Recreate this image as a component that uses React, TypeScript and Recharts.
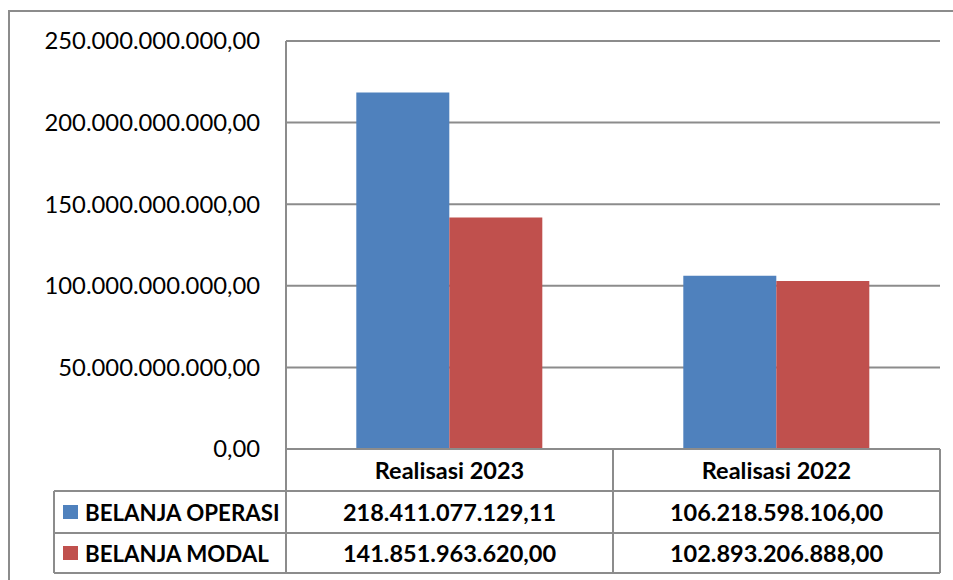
import { BarChart, Bar, XAxis, YAxis, CartesianGrid } from 'recharts'

const categories = ['Realisasi 2023', 'Realisasi 2022']
const belanjaOperasi = [218411077129.11, 106218598106.0]
const belanjaModal = [141851963620.0, 102893206888.0]
const seriesNames = ['BELANJA OPERASI', 'BELANJA MODAL']
const yTicks = [0, 50000000000, 100000000000, 150000000000, 200000000000, 250000000000]

const BLUE = '#4F81BD'
const RED = '#C0504D'
const GRID = '#8c8c8c'
const FONT = 'Lato, "Open Sans", sans-serif'

const W = 953
const H = 580
const PLOT_LEFT = 286
const PLOT_RIGHT = 940
const PLOT_TOP = 41
const PLOT_BOTTOM = 449
const ROW_H = [42, 42, 40]
const BAND = (PLOT_RIGHT - PLOT_LEFT) / categories.length

// indonesian number format: 1.234.567,89
function fmtId(v: number): string {
  const [intPart, dec] = v.toFixed(2).split('.')
  return intPart.replace(/\B(?=(\d{3})+(?!\d))/g, '.') + ',' + dec
}

const data = categories.map((name, i) => ({
  name,
  operasi: belanjaOperasi[i],
  modal: belanjaModal[i],
}))

const rowValues = [belanjaOperasi, belanjaModal]

// each x tick draws one column of the data table under the plot
function TableColumnTick(props: any) {
  const { x, y, payload, index } = props
  const left = x - BAND / 2
  const right = x + BAND / 2
  const y1 = y + ROW_H[0]
  const y2 = y1 + ROW_H[1]
  const y3 = y2 + ROW_H[2]
  const txt = { fontFamily: FONT, fontWeight: 700, fontSize: 23.5, fill: '#000', textAnchor: 'middle' as const, dominantBaseline: 'central' as const }
  return (
    <g>
      <line x1={left} x2={right} y1={y1} y2={y1} stroke={GRID} strokeWidth={2} />
      <line x1={left} x2={right} y1={y2} y2={y2} stroke={GRID} strokeWidth={2} />
      <line x1={left} x2={right} y1={y3} y2={y3} stroke={GRID} strokeWidth={2} />
      <line x1={right} x2={right} y1={y} y2={y3} stroke={GRID} strokeWidth={2} />
      <text x={x} y={y + ROW_H[0] / 2} {...txt}>{payload.value}</text>
      <text x={x} y={y1 + ROW_H[1] / 2} {...txt}>{fmtId(rowValues[0][index])}</text>
      <text x={x} y={y2 + ROW_H[2] / 2} {...txt}>{fmtId(rowValues[1][index])}</text>
    </g>
  )
}

function LegendColumn() {
  const y1 = PLOT_BOTTOM + ROW_H[0]
  const y2 = y1 + ROW_H[1]
  const y3 = y2 + ROW_H[2]
  const colors = [BLUE, RED]
  return (
    <svg width={W} height={H} style={{ position: 'absolute', left: 0, top: 0, pointerEvents: 'none' }}>
      <line x1={PLOT_LEFT} x2={PLOT_LEFT} y1={PLOT_BOTTOM} y2={y3} stroke={GRID} strokeWidth={2} />
      <line x1={54} x2={54} y1={y1} y2={y3} stroke={GRID} strokeWidth={2} />
      <line x1={54} x2={PLOT_LEFT} y1={y1} y2={y1} stroke={GRID} strokeWidth={2} />
      <line x1={54} x2={PLOT_LEFT} y1={y2} y2={y2} stroke={GRID} strokeWidth={2} />
      <line x1={54} x2={PLOT_LEFT} y1={y3} y2={y3} stroke={GRID} strokeWidth={2} />
      {seriesNames.map((name, i) => {
        const top = i === 0 ? y1 : y2
        const mid = top + ROW_H[i + 1] / 2
        return (
          <g key={name}>
            <rect x={63} y={mid - 7} width={15} height={14} fill={colors[i]} />
            <text x={85} y={mid} fontFamily={FONT} fontWeight={700} fontSize={22.3} dominantBaseline="central">
              {name}
            </text>
          </g>
        )
      })}
    </svg>
  )
}

export default function App() {
  return (
    <div style={{ position: 'absolute', left: 0, top: 0, width: W, height: H, overflow: 'hidden', background: '#fff' }}>
      <div
        style={{
          position: 'absolute',
          left: 8,
          top: 10,
          width: 1200,
          height: 1200,
          border: `2px solid ${GRID}`,
        }}
      />
      <div style={{ position: 'absolute', left: 0, top: 0 }}>
        <BarChart
          width={W}
          height={H}
          data={data}
          margin={{ top: PLOT_TOP, right: W - PLOT_RIGHT, left: 30, bottom: 0 }}
          barCategoryGap="21.5%"
          barGap={0}
        >
          <CartesianGrid vertical={false} stroke={GRID} strokeWidth={2} />
          <XAxis
            dataKey="name"
            height={H - PLOT_BOTTOM}
            axisLine={{ stroke: GRID, strokeWidth: 2 }}
            tickLine={false}
            tickSize={0}
            tickMargin={0}
            tick={<TableColumnTick />}
            interval={0}
          />
          <YAxis
            width={PLOT_LEFT - 30}
            domain={[0, 250000000000]}
            ticks={yTicks}
            tickFormatter={fmtId}
            axisLine={{ stroke: GRID, strokeWidth: 2 }}
            tickLine={false}
            tickSize={0}
            tickMargin={26}
            tick={{ fontFamily: FONT, fontSize: 23.8, fill: '#000' }}
          />
          <Bar dataKey="operasi" name={seriesNames[0]} fill={BLUE} isAnimationActive={false} />
          <Bar dataKey="modal" name={seriesNames[1]} fill={RED} isAnimationActive={false} />
        </BarChart>
      </div>
      <LegendColumn />
    </div>
  )
}
